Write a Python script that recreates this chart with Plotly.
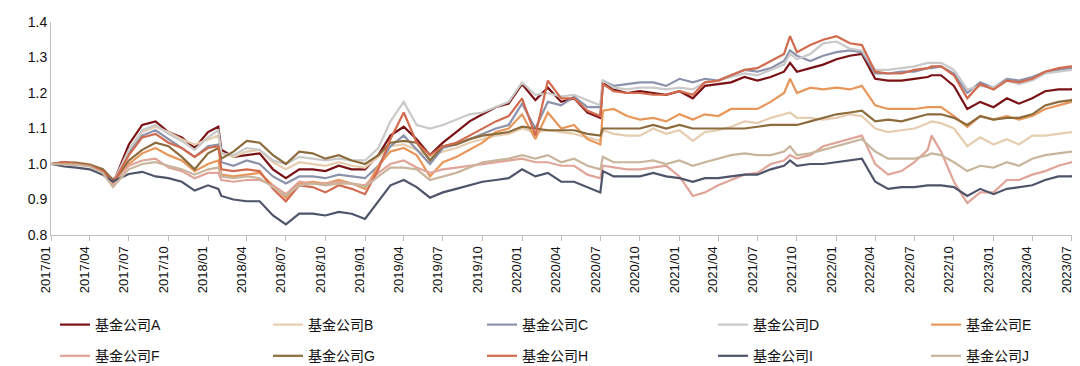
import plotly.graph_objects as go
import pandas as pd

# Monthly observation dates (first of each month) plus the last observation
month_dates = list(pd.date_range("2017-01-01", "2023-07-01", freq="MS").strftime("%Y-%m-%d")) + ["2023-07-28"]

names = ["基金公司A", "基金公司B", "基金公司C", "基金公司D", "基金公司E",
         "基金公司F", "基金公司G", "基金公司H", "基金公司I", "基金公司J"]

A = [1.0, 1.005, 1.0, 0.998, 0.985, 0.965, 1.055, 1.11, 1.12, 1.09, 1.075, 1.045,
     1.09, 1.04, 1.02, 1.025, 1.03, 0.985, 0.96, 0.985, 0.985, 0.98, 0.995, 0.985,
     0.985, 1.025, 1.08, 1.105, 1.07, 1.025, 1.06, 1.09, 1.12, 1.14, 1.16, 1.17,
     1.225, 1.18, 1.215, 1.175, 1.185, 1.145, 1.13, 1.21, 1.2, 1.205, 1.2, 1.195,
     1.205, 1.185, 1.22, 1.225, 1.23, 1.245, 1.235, 1.245, 1.26, 1.26, 1.27, 1.28,
     1.295, 1.305, 1.31, 1.24, 1.235, 1.235, 1.24, 1.245, 1.25, 1.22, 1.155, 1.175,
     1.16, 1.185, 1.17, 1.185, 1.205, 1.21, 1.21, 1.235]
B = [1.0, 1.005, 1.005, 1.0, 0.985, 0.96, 1.035, 1.09, 1.105, 1.09, 1.07, 1.055,
     1.07, 1.03, 1.02, 1.035, 1.04, 1.005, 0.985, 1.005, 1.0, 0.995, 1.005, 0.995,
     0.99, 1.02, 1.05, 1.055, 1.04, 1.02, 1.035, 1.045, 1.06, 1.07, 1.08, 1.085,
     1.1, 1.09, 1.095, 1.09, 1.085, 1.075, 1.065, 1.085, 1.08, 1.08, 1.1, 1.085,
     1.095, 1.065, 1.09, 1.095, 1.105, 1.12, 1.115, 1.13, 1.14, 1.13, 1.13, 1.125,
     1.13, 1.14, 1.135, 1.1, 1.09, 1.095, 1.1, 1.115, 1.115, 1.1, 1.05, 1.075,
     1.055, 1.07, 1.055, 1.08, 1.08, 1.085, 1.09, 1.09]
C = [1.0, 1.0, 1.0, 0.995, 0.98, 0.96, 1.03, 1.08, 1.095, 1.07, 1.045, 1.02,
     1.05, 1.005, 0.995, 1.01, 1.0, 0.965, 0.945, 0.965, 0.965, 0.96, 0.97, 0.965,
     0.96, 0.995, 1.05, 1.08, 1.04, 1.0, 1.045, 1.055, 1.07, 1.085, 1.1, 1.11,
     1.17, 1.1, 1.175, 1.165, 1.19, 1.16, 1.16, 1.22, 1.225, 1.23, 1.23, 1.22,
     1.24, 1.23, 1.24, 1.235, 1.25, 1.265, 1.26, 1.27, 1.29, 1.305, 1.29, 1.305,
     1.315, 1.32, 1.315, 1.255, 1.255, 1.26, 1.26, 1.27, 1.275, 1.255, 1.2, 1.23,
     1.215, 1.24, 1.235, 1.245, 1.26, 1.265, 1.27, 1.28]
D = [1.0, 1.005, 1.0, 0.998, 0.985, 0.965, 1.04, 1.095, 1.11, 1.085, 1.065, 1.04,
     1.075, 1.03, 1.025, 1.045, 1.04, 1.01, 1.0, 1.02, 1.015, 1.01, 1.015, 1.01,
     1.01, 1.045, 1.12, 1.175, 1.11, 1.1, 1.11, 1.125, 1.14, 1.145, 1.16, 1.175,
     1.23, 1.195, 1.2, 1.19, 1.195, 1.18, 1.165, 1.215, 1.21, 1.215, 1.215, 1.21,
     1.215, 1.21, 1.23, 1.235, 1.245, 1.255, 1.25, 1.265, 1.28, 1.295, 1.31, 1.34,
     1.345, 1.325, 1.32, 1.265, 1.265, 1.27, 1.275, 1.285, 1.285, 1.265, 1.21, 1.22,
     1.215, 1.235, 1.225, 1.235, 1.255, 1.26, 1.265, 1.275]
E = [1.0, 1.0, 1.0, 0.995, 0.98, 0.955, 1.0, 1.03, 1.045, 1.025, 1.01, 0.98,
     1.0, 0.97, 0.965, 0.97, 0.975, 0.94, 0.905, 0.945, 0.95, 0.945, 0.955, 0.945,
     0.93, 0.995, 1.035, 1.045, 1.025, 0.965, 1.005, 1.02, 1.04, 1.06, 1.09, 1.1,
     1.14, 1.07, 1.145, 1.1, 1.11, 1.07, 1.055, 1.155, 1.135, 1.125, 1.13, 1.12,
     1.14, 1.125, 1.14, 1.135, 1.155, 1.155, 1.155, 1.175, 1.2, 1.2, 1.215, 1.21,
     1.215, 1.21, 1.22, 1.165, 1.155, 1.155, 1.155, 1.16, 1.16, 1.135, 1.105, 1.135,
     1.125, 1.135, 1.125, 1.135, 1.155, 1.165, 1.175, 1.19]
F = [1.0, 1.0, 0.998, 0.995, 0.98, 0.955, 0.995, 1.01, 1.015, 0.99, 0.98, 0.96,
     0.975, 0.955, 0.95, 0.955, 0.955, 0.94, 0.915, 0.95, 0.945, 0.945, 0.95, 0.945,
     0.94, 0.975, 1.0, 1.01, 0.99, 0.975, 0.985, 0.99, 0.995, 1.0, 1.005, 1.01,
     1.015, 1.005, 1.005, 0.995, 0.995, 0.97, 0.96, 0.99, 0.985, 0.985, 0.99, 0.995,
     0.965, 0.91, 0.92, 0.94, 0.955, 0.97, 0.975, 1.0, 1.01, 1.015, 1.025, 1.05,
     1.06, 1.07, 1.08, 1.0, 0.97, 0.98, 1.005, 1.04, 1.035, 0.95, 0.89, 0.92,
     0.92, 0.955, 0.955, 0.97, 0.98, 0.995, 1.005, 1.025]
G = [1.0, 1.005, 1.003, 0.998, 0.985, 0.96, 1.01, 1.04, 1.06, 1.05, 1.02, 0.985,
     1.03, 1.015, 1.035, 1.065, 1.06, 1.025, 1.0, 1.035, 1.03, 1.015, 1.025, 1.01,
     1.0, 1.025, 1.06, 1.065, 1.06, 1.01, 1.05, 1.055, 1.07, 1.08, 1.085, 1.09,
     1.105, 1.1, 1.095, 1.095, 1.095, 1.085, 1.08, 1.1, 1.1, 1.1, 1.11, 1.1,
     1.11, 1.1, 1.1, 1.1, 1.1, 1.1, 1.105, 1.11, 1.11, 1.11, 1.12, 1.13,
     1.14, 1.145, 1.15, 1.12, 1.125, 1.12, 1.13, 1.14, 1.14, 1.13, 1.11, 1.135,
     1.125, 1.13, 1.13, 1.14, 1.165, 1.175, 1.18, 1.195]
H = [1.0, 1.005, 1.0, 0.995, 0.98, 0.96, 1.025, 1.075, 1.085, 1.06, 1.045, 1.02,
     1.045, 0.985, 0.98, 0.985, 0.98, 0.93, 0.895, 0.94, 0.935, 0.92, 0.94, 0.93,
     0.915, 0.985, 1.07, 1.145, 1.06, 1.025, 1.05, 1.06, 1.08, 1.1, 1.12, 1.135,
     1.185, 1.08, 1.235, 1.185, 1.185, 1.15, 1.135, 1.205, 1.2, 1.2, 1.195, 1.195,
     1.205, 1.195, 1.23, 1.235, 1.25, 1.265, 1.27, 1.29, 1.31, 1.315, 1.335, 1.35,
     1.36, 1.34, 1.335, 1.26, 1.255, 1.255, 1.265, 1.27, 1.275, 1.25, 1.185, 1.225,
     1.21, 1.235, 1.23, 1.24, 1.26, 1.27, 1.275, 1.295]
I = [1.0, 0.993, 0.99, 0.985, 0.97, 0.955, 0.972, 0.978, 0.965, 0.96, 0.95, 0.925,
     0.94, 0.91, 0.9, 0.895, 0.895, 0.855, 0.83, 0.86, 0.86, 0.855, 0.865, 0.86,
     0.845, 0.895, 0.94, 0.955, 0.935, 0.905, 0.92, 0.93, 0.94, 0.95, 0.955, 0.96,
     0.985, 0.965, 0.975, 0.95, 0.95, 0.935, 0.92, 0.965, 0.965, 0.965, 0.975, 0.965,
     0.96, 0.95, 0.96, 0.96, 0.965, 0.97, 0.97, 0.985, 0.995, 0.995, 1.0, 1.0,
     1.005, 1.01, 1.015, 0.95, 0.93, 0.935, 0.935, 0.94, 0.94, 0.935, 0.91, 0.93,
     0.915, 0.93, 0.935, 0.94, 0.955, 0.965, 0.965, 0.985]
J = [1.0, 1.0, 0.998, 0.993, 0.975, 0.945, 0.985, 1.0, 1.005, 0.995, 0.985, 0.97,
     0.985, 0.965, 0.96, 0.965, 0.96, 0.935, 0.91, 0.94, 0.945, 0.94, 0.945, 0.945,
     0.935, 0.965, 0.99, 0.99, 0.985, 0.955, 0.965, 0.975, 0.99, 1.005, 1.01, 1.015,
     1.025, 1.015, 1.025, 1.005, 1.015, 0.995, 0.985, 1.005, 1.005, 1.005, 1.01, 1.0,
     1.01, 0.995, 1.005, 1.015, 1.025, 1.03, 1.025, 1.025, 1.035, 1.025, 1.03, 1.04,
     1.05, 1.06, 1.07, 1.035, 1.015, 1.015, 1.015, 1.025, 1.025, 1.005, 0.98, 0.995,
     0.99, 1.005, 0.995, 1.015, 1.025, 1.03, 1.035, 1.045]

# Extra observations at sharp moves (late-May-2017 dip, Jan-2018 peak,
# Jul-2020 jump, Sep-2021 spike, Aug-2022 spike)
extra_dates = ["2017-05-25", "2018-01-25", "2020-07-07", "2021-09-15", "2022-08-10"]
A_x = [0.955, 1.105, 1.23, 1.285, 1.25]
B_x = [0.945, 1.08, 1.095, 1.145, 1.12]
C_x = [0.95, 1.055, 1.235, 1.32, 1.27]
D_x = [0.955, 1.095, 1.235, 1.31, 1.285]
E_x = [0.945, 1.01, 1.15, 1.24, 1.16]
F_x = [0.945, 0.975, 0.995, 1.025, 1.08]
G_x = [0.955, 1.045, 1.1, 1.11, 1.14]
H_x = [0.95, 1.05, 1.225, 1.36, 1.275]
I_x = [0.95, 0.93, 0.98, 1.01, 0.94]
J_x = [0.935, 0.99, 1.02, 1.05, 1.03]

series = [A, B, C, D, E, F, G, H, I, J]
extras = [A_x, B_x, C_x, D_x, E_x, F_x, G_x, H_x, I_x, J_x]
colors = ["#7A1114", "#E6CDB0", "#8B92AB", "#C9C9C9", "#E8975A",
          "#E0A498", "#8C6B3C", "#D26A4E", "#4E5469", "#C8B59C"]

tick_dates = list(pd.date_range("2017-01-01", "2023-07-01", freq="QS").strftime("%Y-%m-%d"))
tick_text = [d[:4] + "/" + d[5:7] for d in tick_dates]

FONT = "Liberation Sans, Arial, Noto Sans CJK SC, sans-serif"

fig = go.Figure()
for k, (nm, vals, ex, col) in enumerate(zip(names, series, extras, colors)):
    df = pd.DataFrame({"d": month_dates + extra_dates, "v": vals + ex})
    df["d"] = pd.to_datetime(df["d"])
    df = df.sort_values("d")
    col_idx = k % 5
    leg = "legend" if col_idx == 0 else f"legend{col_idx + 1}"
    fig.add_trace(go.Scatter(
        x=df["d"], y=df["v"], name=nm, mode="lines",
        line=dict(color=col, width=2.2),
        legend=leg, legendgroup=nm,
    ))

legend_x = [47, 260, 474, 705, 918]
leg_common = dict(
    xref="container", yref="container", xanchor="left", yanchor="top",
    y=1 - 301 / 366, orientation="v", bgcolor="rgba(0,0,0,0)",
    font=dict(family=FONT, size=14, color="#111111"),
    traceorder="grouped", tracegroupgap=10, itemwidth=30,
)
layout_legends = {}
for i, lx in enumerate(legend_x):
    key = "legend" if i == 0 else f"legend{i + 1}"
    layout_legends[key] = dict(x=lx / 1080, **leg_common)

fig.update_layout(
    width=1080, height=366,
    margin=dict(l=43, r=5, t=14, b=139, autoexpand=False),
    paper_bgcolor="white", plot_bgcolor="white",
    font=dict(family=FONT, size=14, color="#111111"),
    showlegend=True,
    **layout_legends,
)
fig.update_xaxes(
    type="date", range=["2017-01-01", "2023-07-28"],
    tickvals=tick_dates, ticktext=tick_text, tickangle=-90,
    ticklabelshift=-5,
    showline=True, linecolor="#BFBFBF", linewidth=1,
    ticks="outside", ticklen=5, tickcolor="#BFBFBF",
    showgrid=False, zeroline=False,
    tickfont=dict(family=FONT, size=13, color="#111111"),
)
fig.update_yaxes(
    range=[0.8, 1.4], dtick=0.1, tick0=0.8, tickformat=".1f",
    showline=True, linecolor="#BFBFBF", linewidth=1,
    ticks="", showgrid=False, zeroline=False,
    tickfont=dict(family=FONT, size=14, color="#111111"),
)

fig.write_html("out.html")
